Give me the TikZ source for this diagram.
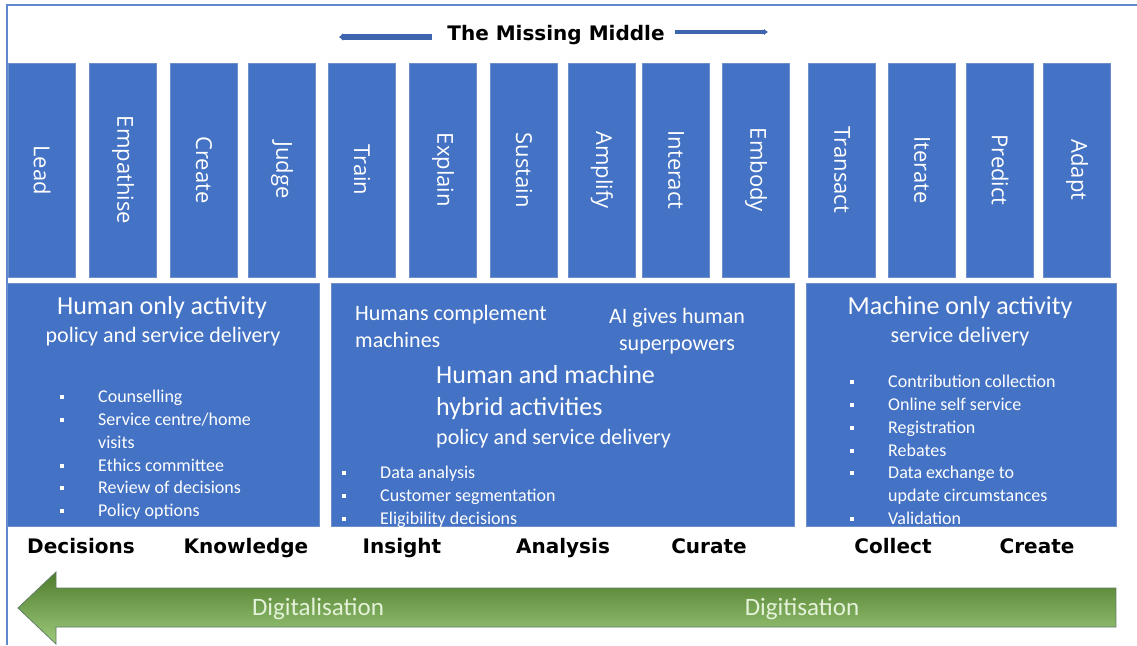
\documentclass[tikz,border=0pt]{standalone}
\usepackage{fontspec}
\usetikzlibrary{arrows.meta}
\setmainfont{Carlito}
\newfontfamily\headfont{DejaVu Sans}
\newfontfamily\colfont{Open Sans}
\definecolor{myBlue}{HTML}{4472C4}
\definecolor{myEdge}{HTML}{6F8FCB}
\definecolor{myFrame}{HTML}{5F88CF}
\definecolor{myArrow}{HTML}{3D66AE}
\definecolor{myGreenDark}{HTML}{4F7B2C}
\definecolor{myGreenLight}{HTML}{9DCB7B}
\definecolor{myGreenEdge}{HTML}{5E7E62}
\definecolor{myGreenText}{HTML}{E4F2DA}
\newcommand{\bul}{\makebox[38pt][l]{\raisebox{3.6pt}{\rule{4pt}{4pt}}}}
\newcommand{\nob}{\hspace*{38pt}}

\begin{document}
\begin{tikzpicture}[x=1pt, y=-1pt, >={Latex[length=4pt,width=8pt]}]
  \tikzstyle{col}=[rectangle, fill=myBlue, draw=myEdge, line width=0.6pt, rotate=-90, minimum width=214pt, minimum height=67pt, inner sep=0pt, text=white, font=\colfont\fontsize{22}{26}\selectfont]
  \tikzstyle{area}=[rectangle, fill=myBlue, draw=myEdge, line width=0.6pt, inner sep=0pt]
  \tikzstyle{big}=[text=white, inner sep=0pt, font=\fontsize{26}{32}\selectfont]
  \tikzstyle{sub}=[text=white, inner sep=0pt, font=\fontsize{22}{27}\selectfont]
  \tikzstyle{list}=[text=white, inner sep=0pt, align=left, font=\fontsize{18}{22.8}\selectfont]
  \tikzstyle{stage}=[text=black, inner sep=0pt, anchor=base, font=\headfont\bfseries\fontsize{20}{24}\selectfont]

  \useasboundingbox (0,0) rectangle (1137,645);
  \fill[white] (0,0) rectangle (1137,645);
  \draw[myFrame, line width=2pt] (7,645) -- (7,5) -- (1137,5);

  % title with arrows
  \node[stage] at (556,40) (title) {The Missing Middle};
  \coordinate (leftstart) at (432,37);
  \coordinate (lefttip) at (339,37);
  \coordinate (rightstart) at (675,32);
  \coordinate (righttip) at (768,32);
  \draw[->, myArrow, line width=5.5pt] (leftstart) -- (lefttip);
  \draw[->, myArrow, line width=3.5pt, >={Latex[length=4pt,width=6.5pt]}] (rightstart) -- (righttip);

  % columns
  \node[col] at (42,170) (lead) {Lead};
  \node[col] at (123,170) (empathise) {Empathise};
  \node[col] at (204,170) (create) {Create};
  \node[col] at (282,170) (judge) {Judge};
  \node[col] at (362,170) (train) {Train};
  \node[col] at (443,170) (explain) {Explain};
  \node[col] at (524,170) (sustain) {Sustain};
  \node[col] at (602,170) (amplify) {Amplify};
  \node[col] at (676,170) (interact) {Interact};
  \node[col] at (756,170) (embody) {Embody};
  \node[col] at (842,170) (transact) {Transact};
  \node[col] at (922,170) (iterate) {Iterate};
  \node[col] at (1000,170) (predict) {Predict};
  \node[col] at (1077,170) (adapt) {Adapt};

  % activity boxes
  \node[area, minimum width=312pt, minimum height=243pt] at (163,404.5) (humanbox) {};
  \node[area, minimum width=463pt, minimum height=243pt] at (562.5,404.5) (hybridbox) {};
  \node[area, minimum width=310pt, minimum height=243pt] at (961,404.5) (machinebox) {};

  \node[big] at (162,308) (humanonly) {Human only activity};
  \node[sub] at (163,337) (humanpolicy) {policy and service delivery};
  \node[list, anchor=north west] at (60,390) (humanlist) {\bul Counselling\\ \bul Service centre/home\\ \nob visits\\ \bul Ethics committee\\ \bul Review of decisions\\ \bul Policy options};

  \node[sub, anchor=west, align=left] at (355,326) (complement) {Humans complement\\machines};
  \node[sub, align=center] at (677,331) (superpowers) {AI gives human\\superpowers};
  \node[big, anchor=west, align=left] at (436,393) (hybrid) {Human and machine\\hybrid activities};
  \node[sub, anchor=west] at (436,439) (hybridpolicy) {policy and service delivery};
  \node[list, anchor=north west] at (342,466) (hybridlist) {\bul Data analysis\\ \bul Customer segmentation\\ \bul Eligibility decisions};

  \node[big] at (960,308) (machineonly) {Machine only activity};
  \node[sub] at (960,337) (machineservice) {service delivery};
  \node[list, anchor=north west] at (850,375) (machinelist) {\bul Contribution collection\\ \bul Online self service\\ \bul Registration\\ \bul Rebates\\ \bul Data exchange to\\ \nob update circumstances\\ \bul Validation};

  % stages
  \node[stage] at (81,553) (decisions) {Decisions};
  \node[stage] at (246,553) (knowledge) {Knowledge};
  \node[stage] at (402,553) (insight) {Insight};
  \node[stage] at (563,553) (analysis) {Analysis};
  \node[stage] at (709,553) (curate) {Curate};
  \node[stage] at (893,553) (collect) {Collect};
  \node[stage] at (1037,553) (createstage) {Create};

  % digitalisation arrow
  \shade[top color=myGreenDark, bottom color=myGreenLight, draw=myGreenEdge, line width=0.8pt]
    (1116,588) -- (56,588) -- (56,572) -- (18,608) -- (56,644) -- (56,627) -- (1116,627) -- cycle;
  \node[text=myGreenText, font=\fontsize{25}{30}\selectfont] at (318,609) (digitalisation) {Digitalisation};
  \node[text=myGreenText, font=\fontsize{25}{30}\selectfont] at (802,609) (digitisation) {Digitisation};
\end{tikzpicture}
\end{document}
